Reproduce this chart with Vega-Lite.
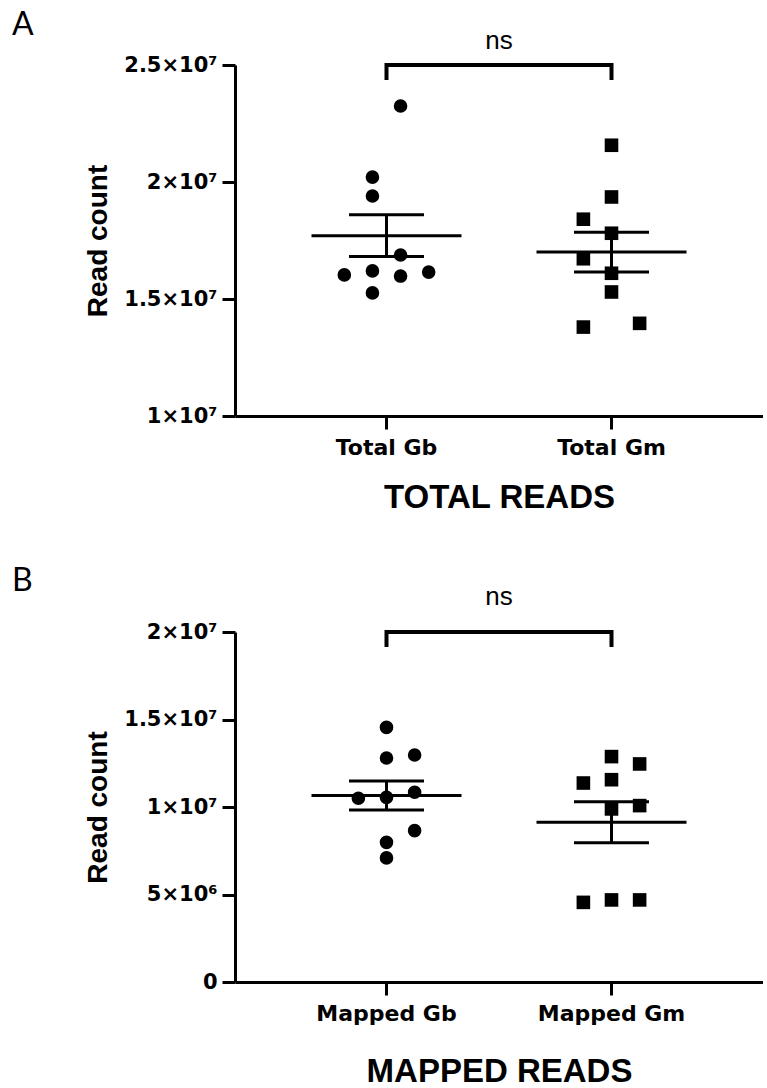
{
  "$schema": "https://vega.github.io/schema/vega-lite/v6.json",
  "padding": {"left": 12, "top": 8, "right": 0, "bottom": 0},
  "spacing": 50,
  "datasets": {
    "total": [
      {"group": "Total Gb", "reads": 23250000, "jitter": 0.5},
      {"group": "Total Gb", "reads": 20210000, "jitter": -0.5},
      {"group": "Total Gb", "reads": 19400000, "jitter": -0.5},
      {"group": "Total Gb", "reads": 16880000, "jitter": 0.5},
      {"group": "Total Gb", "reads": 16030000, "jitter": -1.5},
      {"group": "Total Gb", "reads": 16200000, "jitter": -0.5},
      {"group": "Total Gb", "reads": 15980000, "jitter": 0.5},
      {"group": "Total Gb", "reads": 16150000, "jitter": 1.5},
      {"group": "Total Gb", "reads": 15260000, "jitter": -0.5},
      {"group": "Total Gm", "reads": 21570000, "jitter": 0},
      {"group": "Total Gm", "reads": 19360000, "jitter": 0},
      {"group": "Total Gm", "reads": 18410000, "jitter": -1},
      {"group": "Total Gm", "reads": 17810000, "jitter": 0},
      {"group": "Total Gm", "reads": 16720000, "jitter": -1},
      {"group": "Total Gm", "reads": 16100000, "jitter": 0},
      {"group": "Total Gm", "reads": 15300000, "jitter": 0},
      {"group": "Total Gm", "reads": 13800000, "jitter": -1},
      {"group": "Total Gm", "reads": 13960000, "jitter": 1}
    ],
    "mapped": [
      {"group": "Mapped Gb", "reads": 14550000, "jitter": 0},
      {"group": "Mapped Gb", "reads": 12800000, "jitter": 0},
      {"group": "Mapped Gb", "reads": 12970000, "jitter": 1},
      {"group": "Mapped Gb", "reads": 10500000, "jitter": -1},
      {"group": "Mapped Gb", "reads": 10550000, "jitter": 0},
      {"group": "Mapped Gb", "reads": 10840000, "jitter": 1},
      {"group": "Mapped Gb", "reads": 8650000, "jitter": 1},
      {"group": "Mapped Gb", "reads": 7980000, "jitter": 0},
      {"group": "Mapped Gb", "reads": 7090000, "jitter": 0},
      {"group": "Mapped Gm", "reads": 12880000, "jitter": 0},
      {"group": "Mapped Gm", "reads": 12460000, "jitter": 1},
      {"group": "Mapped Gm", "reads": 11370000, "jitter": -1},
      {"group": "Mapped Gm", "reads": 11560000, "jitter": 0},
      {"group": "Mapped Gm", "reads": 10080000, "jitter": 1},
      {"group": "Mapped Gm", "reads": 9890000, "jitter": 0},
      {"group": "Mapped Gm", "reads": 4550000, "jitter": -1},
      {"group": "Mapped Gm", "reads": 4690000, "jitter": 0},
      {"group": "Mapped Gm", "reads": 4690000, "jitter": 1}
    ],
    "bracketA": [
      {"group": "Total Gb", "reads": 24360000, "step": 1},
      {"group": "Total Gb", "reads": 25000000, "step": 2},
      {"group": "Total Gm", "reads": 25000000, "step": 3},
      {"group": "Total Gm", "reads": 24360000, "step": 4}
    ],
    "bracketB": [
      {"group": "Mapped Gb", "reads": 19140000, "step": 1},
      {"group": "Mapped Gb", "reads": 20000000, "step": 2},
      {"group": "Mapped Gm", "reads": 20000000, "step": 3},
      {"group": "Mapped Gm", "reads": 19140000, "step": 4}
    ],
    "nsA": [{"group": "Total Gb", "reads": 26030000, "jitter": 4, "label": "ns"}],
    "nsB": [{"group": "Mapped Gb", "reads": 22000000, "jitter": 4, "label": "ns"}]
  },
  "vconcat": [
    {
      "title": {"text": "A", "anchor": "start", "frame": "group", "font": "Lato", "fontSize": 32, "fontWeight": "normal", "color": "black", "dx": -223, "dy": 39, "offset": 0, "baseline": "alphabetic"},
      "width": 528,
      "height": 351,
      "layer": [
        {
          "data": {"name": "total"},
          "mark": {"type": "point", "filled": true, "opacity": 1, "size": 185, "color": "black"},
          "encoding": {
            "x": {"field": "group", "type": "nominal", "scale": {"domain": ["Total Gb", "Total Gm"], "paddingInner": 0, "paddingOuter": 0.1733}, "axis": {"title": "TOTAL READS", "titlePadding": 23}},
            "xOffset": {"field": "jitter", "type": "quantitative", "scale": {"domain": [-4, 4]}},
            "y": {"field": "reads", "type": "quantitative", "title": "Read count", "scale": {"domain": [10000000, 25000000], "nice": false, "zero": false},
              "axis": {"values": [10000000, 15000000, 20000000, 25000000], "labelExpr": "datum.value == 10000000 ? '1×10⁷' : datum.value == 15000000 ? '1.5×10⁷' : datum.value == 20000000 ? '2×10⁷' : '2.5×10⁷'"}},
            "shape": {"field": "group", "type": "nominal", "scale": {"range": ["circle", "square"]}, "legend": null}
          }
        },
        {
          "data": {"name": "total"},
          "mark": {"type": "tick", "size": 150, "thickness": 3, "color": "black", "opacity": 1},
          "encoding": {
            "x": {"field": "group", "type": "nominal"},
            "y": {"aggregate": "mean", "field": "reads", "type": "quantitative", "title": "Read count"}
          }
        },
        {
          "data": {"name": "total"},
          "mark": {"type": "errorbar", "extent": "stderr", "color": "black", "opacity": 1, "ticks": {"size": 75, "thickness": 3, "color": "black", "opacity": 1}, "rule": {"strokeWidth": 3, "color": "black", "opacity": 1}},
          "encoding": {
            "x": {"field": "group", "type": "nominal"},
            "y": {"field": "reads", "type": "quantitative", "title": "Read count"}
          }
        },
        {
          "data": {"name": "bracketA"},
          "mark": {"type": "line", "color": "black", "strokeWidth": 4, "strokeJoin": "miter", "strokeCap": "butt"},
          "encoding": {
            "x": {"field": "group", "type": "nominal"},
            "y": {"field": "reads", "type": "quantitative", "title": "Read count"},
            "order": {"field": "step", "type": "quantitative"}
          }
        },
        {
          "data": {"name": "nsA"},
          "mark": {"type": "text", "font": "Liberation Sans", "fontSize": 26, "baseline": "middle", "align": "center", "color": "black"},
          "encoding": {
            "x": {"field": "group", "type": "nominal"},
            "xOffset": {"field": "jitter", "type": "quantitative"},
            "y": {"field": "reads", "type": "quantitative", "title": "Read count"},
            "text": {"field": "label"}
          }
        }
      ]
    },
    {
      "title": {"text": "B", "anchor": "start", "frame": "group", "font": "Lato", "fontSize": 32, "fontWeight": "normal", "color": "black", "dx": -223, "dy": 39, "offset": 0, "baseline": "alphabetic"},
      "width": 528,
      "height": 350,
      "layer": [
        {
          "data": {"name": "mapped"},
          "mark": {"type": "point", "filled": true, "opacity": 1, "size": 185, "color": "black"},
          "encoding": {
            "x": {"field": "group", "type": "nominal", "scale": {"domain": ["Mapped Gb", "Mapped Gm"], "paddingInner": 0, "paddingOuter": 0.1733}, "axis": {"title": "MAPPED READS", "titlePadding": 31}},
            "xOffset": {"field": "jitter", "type": "quantitative", "scale": {"domain": [-4, 4]}},
            "y": {"field": "reads", "type": "quantitative", "title": "Read count", "scale": {"domain": [0, 20000000], "nice": false},
              "axis": {"values": [0, 5000000, 10000000, 15000000, 20000000], "labelExpr": "datum.value == 0 ? '0' : datum.value == 5000000 ? '5×10⁶' : datum.value == 10000000 ? '1×10⁷' : datum.value == 15000000 ? '1.5×10⁷' : '2×10⁷'"}},
            "shape": {"field": "group", "type": "nominal", "scale": {"range": ["circle", "square"]}, "legend": null}
          }
        },
        {
          "data": {"name": "mapped"},
          "mark": {"type": "tick", "size": 150, "thickness": 3, "color": "black", "opacity": 1},
          "encoding": {
            "x": {"field": "group", "type": "nominal"},
            "y": {"aggregate": "mean", "field": "reads", "type": "quantitative", "title": "Read count"}
          }
        },
        {
          "data": {"name": "mapped"},
          "mark": {"type": "errorbar", "extent": "stderr", "color": "black", "opacity": 1, "ticks": {"size": 75, "thickness": 3, "color": "black", "opacity": 1}, "rule": {"strokeWidth": 3, "color": "black", "opacity": 1}},
          "encoding": {
            "x": {"field": "group", "type": "nominal"},
            "y": {"field": "reads", "type": "quantitative", "title": "Read count"}
          }
        },
        {
          "data": {"name": "bracketB"},
          "mark": {"type": "line", "color": "black", "strokeWidth": 4, "strokeJoin": "miter", "strokeCap": "butt"},
          "encoding": {
            "x": {"field": "group", "type": "nominal"},
            "y": {"field": "reads", "type": "quantitative", "title": "Read count"},
            "order": {"field": "step", "type": "quantitative"}
          }
        },
        {
          "data": {"name": "nsB"},
          "mark": {"type": "text", "font": "Liberation Sans", "fontSize": 26, "baseline": "middle", "align": "center", "color": "black"},
          "encoding": {
            "x": {"field": "group", "type": "nominal"},
            "xOffset": {"field": "jitter", "type": "quantitative"},
            "y": {"field": "reads", "type": "quantitative", "title": "Read count"},
            "text": {"field": "label"}
          }
        }
      ]
    }
  ],
  "config": {
    "view": {"stroke": null},
    "axis": {"grid": false, "domainColor": "black", "domainWidth": 3, "tickColor": "black", "tickWidth": 3, "tickSize": 13, "labelColor": "black", "titleColor": "black", "labelFont": "DejaVu Sans", "labelFontWeight": "bold", "titleFont": "Liberation Sans", "titleFontWeight": "bold"},
    "axisX": {"labelFontSize": 22, "labelPadding": 8, "titleFontSize": 33, "labelAngle": 0},
    "axisY": {"labelFontSize": 21, "labelPadding": 5, "titleFontSize": 28, "titlePadding": 11}
  }
}
